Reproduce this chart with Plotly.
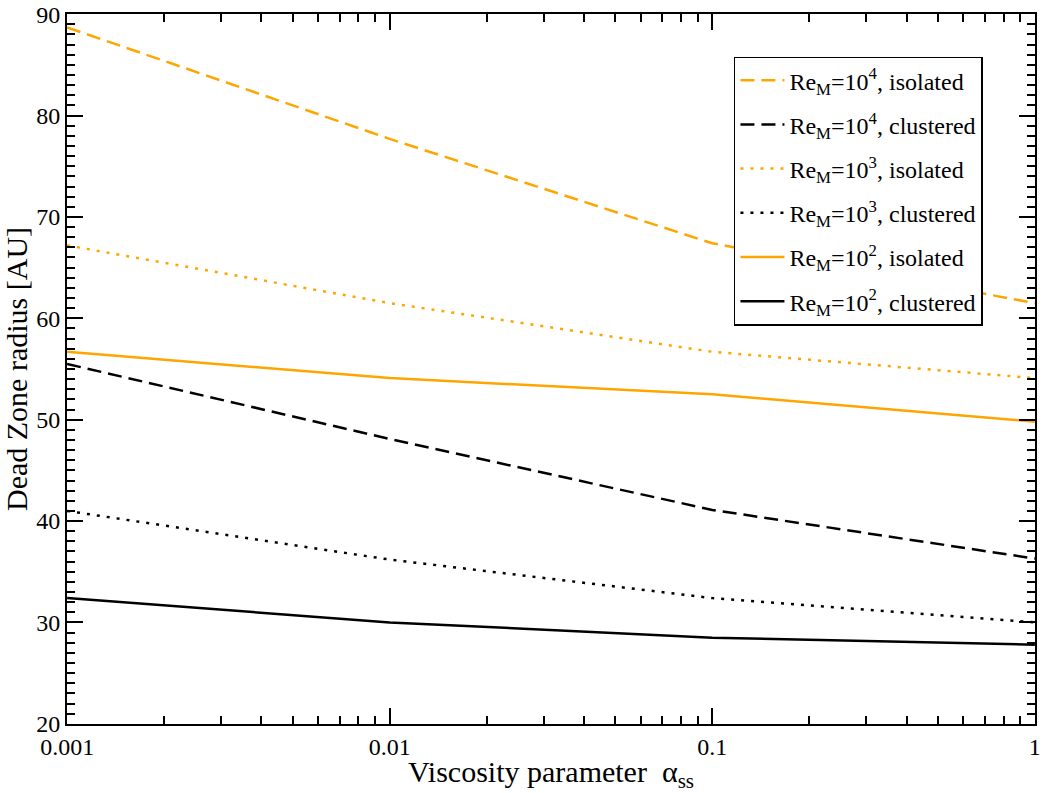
import plotly.graph_objects as go

# viscosity parameter alpha_ss
alpha = [0.001, 0.01, 0.1, 1.0]

# dead zone radius [AU]
re4_isolated = [88.7, 77.7, 67.4, 61.5]
re4_clustered = [55.5, 48.1, 41.1, 36.3]
re3_isolated = [67.2, 61.5, 56.7, 54.1]
re3_clustered = [41.0, 36.2, 32.4, 30.0]
re2_isolated = [56.7, 54.1, 52.5, 49.8]
re2_clustered = [32.4, 30.0, 28.5, 27.8]

nombres = ['Re<sub>M</sub>=10<sup>4</sup>, isolated',
           'Re<sub>M</sub>=10<sup>4</sup>, clustered',
           'Re<sub>M</sub>=10<sup>3</sup>, isolated',
           'Re<sub>M</sub>=10<sup>3</sup>, clustered',
           'Re<sub>M</sub>=10<sup>2</sup>, isolated',
           'Re<sub>M</sub>=10<sup>2</sup>, clustered']

x_ticks = [0.001, 0.01, 0.1, 1]
x_ticktext = ['0.001', '0.01', '0.1', '1']
y_ticks = [20, 30, 40, 50, 60, 70, 80, 90]
# ticks menores en escala log: 2..9 de cada decada
x_minor = [m * d for d in [0.001, 0.01, 0.1] for m in range(2, 10)]

NARANJA = '#FFA500'
NEGRO = '#000000'
fuente = 'Liberation Serif, Times New Roman, serif'

series = [re4_isolated, re4_clustered, re3_isolated, re3_clustered, re2_isolated, re2_clustered]
colores = [NARANJA, NEGRO, NARANJA, NEGRO, NARANJA, NEGRO]
estilos = ['14px,7px', '14px,7px', '3px,7px', '3px,7px', 'solid', 'solid']

fig = go.Figure()
for i, (y, nombre, color, estilo) in enumerate(zip(series, nombres, colores, estilos)):
    fig.add_trace(go.Scatter(x=alpha, y=y, mode='lines', name=nombre, legendgroup=f'g{i}',
                             line=dict(color=color, width=2.5, dash=estilo)))

eje = dict(showgrid=False, zeroline=False, showline=True, linecolor='black', linewidth=2,
           mirror='ticks', ticks='inside', ticklen=16, tickwidth=1.5, tickcolor='black',
           ticklabeloverflow='allow',
           tickfont=dict(family=fuente, size=24, color='black'))

fig.update_layout(
    width=1043, height=793,
    margin=dict(l=67, r=2, t=10, b=69),
    plot_bgcolor='white', paper_bgcolor='white',
    font=dict(family=fuente, color='black'),
    xaxis=dict(type='log', range=[-3.0004, 0.0004], tickvals=x_ticks, ticktext=x_ticktext,
               title=dict(text='Viscosity parameter  α<sub>ss</sub>', font=dict(family=fuente, size=30), standoff=2),
               minor=dict(ticks='inside', ticklen=8, tickwidth=1.5, tickcolor='black',
                          tickvals=x_minor, showgrid=False),
               **eje),
    yaxis=dict(range=[19.98, 90.02], tickvals=y_ticks,
               title=dict(text='Dead Zone radius [AU]', font=dict(family=fuente, size=30), standoff=2),
               minor=dict(ticks='inside', ticklen=8, tickwidth=1.5, tickcolor='black',
                          tick0=20, dtick=1, showgrid=False),
               **eje),
    legend=dict(x=0.689, y=0.94, xanchor='left', yanchor='top',
                bgcolor='white', bordercolor='black', borderwidth=1.5,
                font=dict(family=fuente, size=24, color='black'),
                tracegroupgap=10, itemwidth=44),
    showlegend=True,
)

# quitar el margen del body para que la figura quede en la esquina
fig.write_html("out.html", config={'displayModeBar': False},
               post_script="document.body.style.margin='0';")
